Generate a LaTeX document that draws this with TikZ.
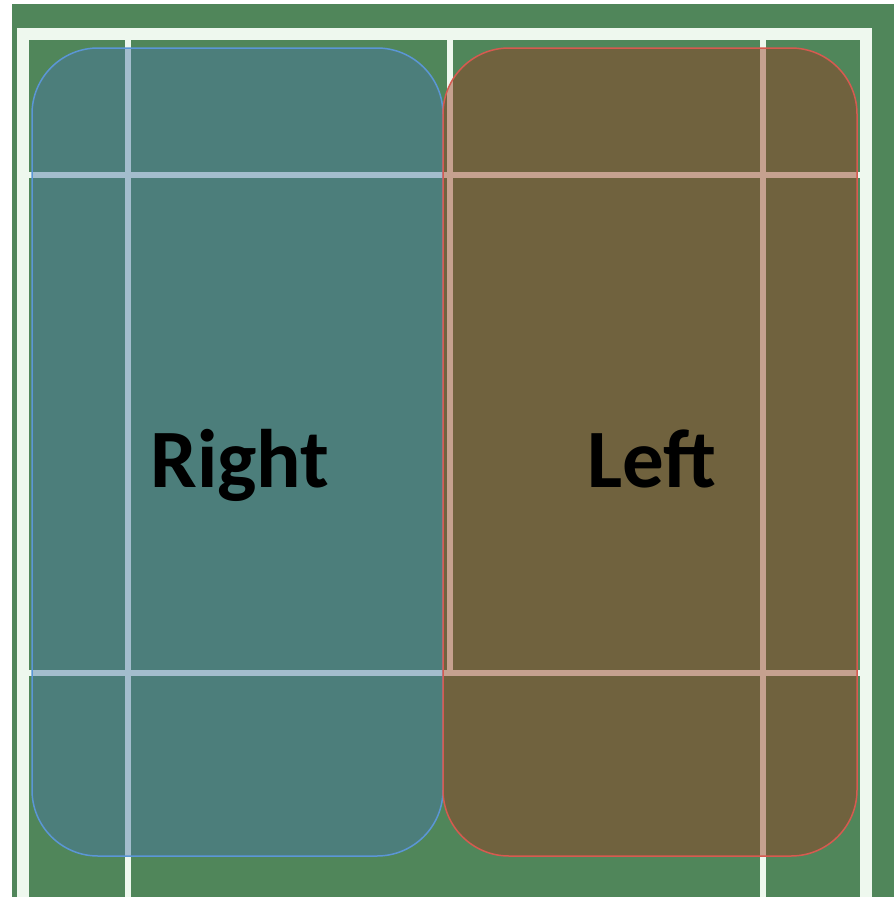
\documentclass[tikz,border=0pt]{standalone}
\usepackage{fontspec}
\setmainfont{Carlito}
\usepackage{tikz}
\usetikzlibrary{positioning}

\definecolor{courtgreen}{RGB}{80,134,90}
\definecolor{courtline}{RGB}{238,248,238}
\definecolor{rightfill}{RGB}{73,118,165}
\definecolor{rightedge}{RGB}{91,150,214}
\definecolor{leftfill}{RGB}{151,56,28}
\definecolor{leftedge}{RGB}{215,90,80}

\begin{document}
\begin{tikzpicture}[x=1pt, y=-1pt,
  outer/.style={line width=12pt, courtline, line join=miter},
  inner/.style={line width=6.5pt, courtline},
  zone/.style={rectangle, rounded corners=66pt, line width=1.5pt, fill opacity=0.45,
    minimum width=#1, minimum height=808pt, inner sep=0pt},
  word/.style={anchor=base, font=\fontsize{83}{90}\selectfont\bfseries, text=black}
]
\useasboundingbox (0,0) rectangle (894,897);
\fill[white] (0,0) rectangle (894,897);
\fill[courtgreen] (12,4) rectangle (894,897);

% court lines
\draw[outer] (23,897) -- (23,34) -- (866,34) -- (866,897);
\draw[inner] (128,34) -- (128,897);
\draw[inner] (763,34) -- (763,897);
\draw[inner] (450,34) -- (450,673);
\draw[inner] (23,175) -- (866,175);
\draw[inner] (23,673) -- (866,673);

% zones
\node[zone=411pt, draw=rightedge, fill=rightfill] (right) at (237.5,452) {};
\node[zone=414pt, draw=leftedge, fill=leftfill] (left) at (650,452) {};
\node[word] (rightlbl) at (240,487) {Right};
\node[word] (leftlbl) at (652,487) {Left};
\end{tikzpicture}
\end{document}
